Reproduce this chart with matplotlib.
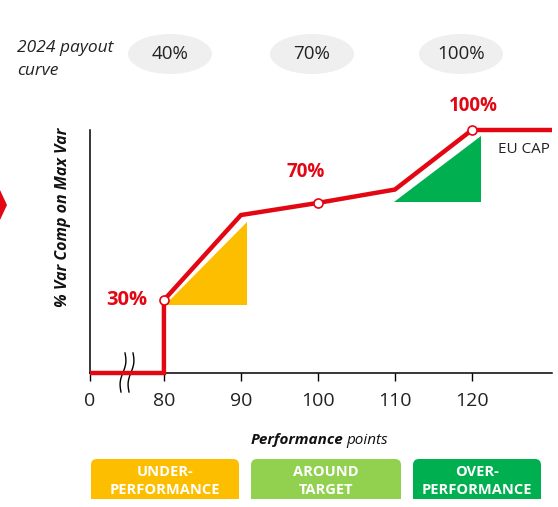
import numpy as np
import matplotlib
matplotlib.use("Agg")
import matplotlib.pyplot as plt
from matplotlib.patches import Ellipse, FancyBboxPatch, Rectangle, Polygon

plt.rcParams['font.family'] = ['Open Sans', 'DejaVu Sans']

RED = '#e30613'
YELLOW = '#fdbe00'
LGREEN = '#92d050'
GREEN = '#00af50'

# data
perf_x = [0, 80, 80, 90, 100, 110, 120, 130.4]
payout_y = [0, 0, 30, 65, 70, 75.5, 100, 100]
marker_x = [80, 100, 120]
marker_y = [30, 70, 100]
marker_labels = ['30%', '70%', '100%']
tick_vals = [0, 80, 90, 100, 110, 120]
under_tri_x = [80.1, 90.8, 90.8]
under_tri_y = [28, 28, 62]
over_tri_x = [109.9, 121.2, 121.2]
over_tri_y = [70.4, 70.4, 97.5]
payout_2024 = ['40%', '70%', '100%']
zones = ['UNDER-\nPERFORMANCE', 'AROUND\nTARGET', 'OVER-\nPERFORMANCE']
zone_colors = [YELLOW, LGREEN, GREEN]

X0 = 70.4  # where "0" sits on the broken axis


def xpos(v):
    return X0 if v == 0 else v


W, H = 558, 507
fig = plt.figure(figsize=(W / 100, H / 100), dpi=100)

# overlay in pixel coordinates for decorations
ov = fig.add_axes([0, 0, 1, 1])
ov.set_xlim(0, W)
ov.set_ylim(H, 0)
ov.axis('off')

ax = fig.add_axes([90 / W, (H - 373) / H, 462 / W, 243 / H])
ax.patch.set_alpha(0)
ax.set_xlim(X0, 130.4)
ax.set_ylim(0, 100)

ax.fill(under_tri_x, under_tri_y, color=YELLOW, lw=0, zorder=2)
ax.fill(over_tri_x, over_tri_y, color=GREEN, lw=0, zorder=2)

ax.plot([xpos(v) for v in perf_x], payout_y, color=RED, lw=3.2,
        solid_joinstyle='miter', solid_capstyle='butt', clip_on=False, zorder=4)
ax.plot(marker_x, marker_y, 'o', ms=6.5, mfc='white', mec=RED, mew=1.2,
        clip_on=False, zorder=5)

label_off = [(-27, 0), (-9, 22), (1, 17.5)]
label_fs = [14.5, 13.5, 13.5]
for x, y, t, (dx, dy), fs in zip(marker_x, marker_y, marker_labels, label_off, label_fs):
    ax.annotate(t, (x, y), xytext=(dx, dy), textcoords='offset points',
                color=RED, fontsize=fs, fontweight='bold', ha='center', va='center')

ax.text(126.7, 92, 'EU CAP', fontsize=11, color='#222222', ha='center', va='center')

for s in ['top', 'right']:
    ax.spines[s].set_visible(False)
ax.spines['left'].set_linewidth(1.1)
ax.spines['bottom'].set_linewidth(1.1)
ax.set_yticks([])
ax.set_xticks([xpos(v) for v in tick_vals])
ax.set_xticklabels([str(v) for v in tick_vals], fontsize=14, color='#222222')
ax.tick_params(axis='x', length=6, width=1, pad=8)

ov.text(63, 217, '% Var Comp on Max Var', fontsize=11.5, fontweight='bold',
        fontstyle='italic', rotation=90, ha='center', va='center', color='#111111')

# axis break marks
t = np.linspace(0, 1, 50)
for bx in [123, 131]:
    ov.plot(bx + 1.8 * np.sin(t * 2 * np.pi) - (t - 0.5) * 4, 353 + 39 * t,
            color='black', lw=1)

# performance label
ov.text(343, 440, 'Performance', fontsize=11, fontweight='bold', fontstyle='italic',
        ha='right', va='center', color='#111111')
ov.text(346, 440, 'points', fontsize=11, fontstyle='italic',
        ha='left', va='center', color='#111111')

# top row
ov.text(17, 48, '2024 payout', fontsize=12.5, fontstyle='italic', color='#222222', va='center')
ov.text(17, 71, 'curve', fontsize=12.5, fontstyle='italic', color='#222222', va='center')
for cx, t_ in zip([170, 312, 461], payout_2024):
    ov.add_patch(Ellipse((cx, 54), 84, 40, color='#efefef', lw=0))
    ov.text(cx, 54, t_, fontsize=13.5, color='#222222', ha='center', va='center')

# red arrow tip at left
ov.add_patch(Polygon([[0, 190], [7, 205], [0, 220]], closed=True, color=RED, lw=0))

# zone boxes
clip = Rectangle((0, 0), W, 499, transform=ov.transData)
for (x0, x1), t_, c in zip([(91, 239), (251, 401), (413, 541)], zones, zone_colors):
    b = FancyBboxPatch((x0, 459), x1 - x0, 60, boxstyle='round,pad=0,rounding_size=6',
                       fc=c, ec='none')
    ov.add_patch(b)
    b.set_clip_path(clip)
    tx = ov.text((x0 + x1) / 2, 481, t_, fontsize=10.5, fontweight='bold', color='white',
                 ha='center', va='center', linespacing=1.4)
    tx.set_clip_path(clip)

fig.savefig('out.png', dpi=100)
